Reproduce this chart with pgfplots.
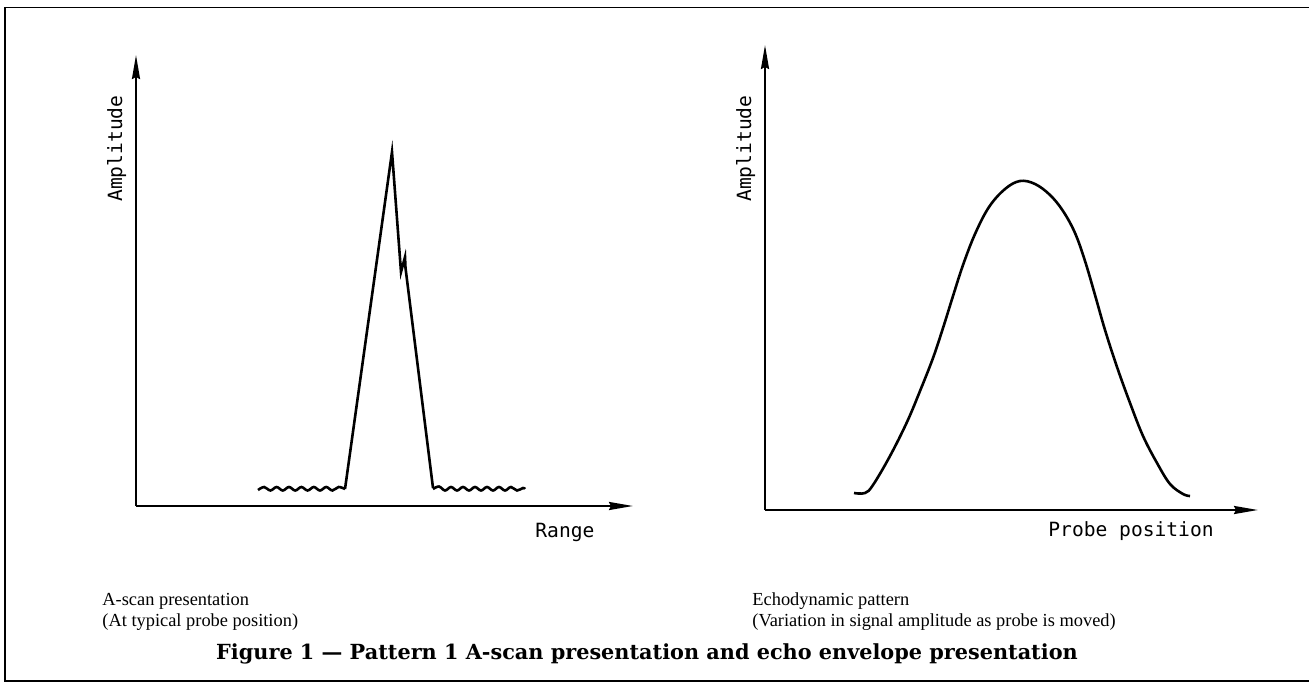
\documentclass[border=0pt]{standalone}
\usepackage{pgfplots}
\pgfplotsset{compat=1.18}
\usepackage{fontspec}
\setmainfont{Liberation Serif}
\newfontfamily\titlefont{DejaVu Serif}
\newfontfamily\lab{DejaVu Sans Mono}
\usetikzlibrary{arrows.meta}
\pgfplotsset{
  sketch/.style={
    scale only axis, x=0.5pt, y=0.5pt, xmin=0, ymin=0,
    axis x line=bottom, axis y line=left, ticks=none, clip=false,
    axis line style={line width=1.1pt, -{Stealth[length=12pt,width=4pt,inset=1pt]}},
    every axis plot/.append style={line width=1.3pt, black},
  }
}
\begin{document}
\begin{tikzpicture}
\useasboundingbox (0,0) rectangle (654.5pt,-347.5pt);
% frame
\draw[line width=0.9pt] (654.5pt,-3.8pt) -- (2.5pt,-3.8pt) -- (2.5pt,-340.5pt) -- (654.5pt,-340.5pt);

% left: A-scan
\begin{axis}[sketch, at={(68pt,-253pt)}, anchor=origin, xmax=497, ymax=451]
\addplot[smooth, tension=0.6] coordinates {
(122,16) (128.2,19) (134.4,15.5) (140.6,19) (146.8,15.5) (153,19) (159.2,15.5)
(165.4,19) (171.6,15.5) (177.8,19) (184,15.5) (190.2,19) (196.4,15.5) (202.6,19) (209,17)};
\addplot[sharp plot] coordinates {
(209,17) (256,354) (265,234) (269,249) (269.5,238) (297,18)};
\addplot[smooth, tension=0.6] coordinates {
(297,17) (303,19.5) (309,15.5) (315,19) (321,15.5) (327,19) (333,15.5) (339,19)
(345,15.5) (351,19) (357,15.5) (363,19) (369,15.5) (375,19) (381,15.5) (387,18) (389,17)};
\end{axis}

% right: echodynamic
\begin{axis}[sketch, at={(382.5pt,-255pt)}, anchor=origin, xmax=493, ymax=465]
\addplot[smooth, tension=0.6] coordinates {
(89,17) (100,17) (108,25) (125,54) (142,88) (155,119) (168,152) (178,182)
(188,214) (198,245) (210,276) (224,303) (240,321) (255,329) (270,326) (285,315)
(298,299) (310,277) (320,249) (330,215) (340,180) (352,143) (365,107) (378,74)
(392,47) (405,26) (418,16) (425,14)};
\end{axis}

% axis labels
\node[font=\lab\fontsize{9.8pt}{11pt}\selectfont, rotate=90, anchor=base west, inner sep=0pt] at (61pt,-101pt) {Amplitude};
\node[font=\lab\fontsize{9.8pt}{11pt}\selectfont, rotate=90, anchor=base west, inner sep=0pt] at (375.5pt,-101pt) {Amplitude};
\node[font=\lab\fontsize{9.8pt}{11pt}\selectfont, anchor=base west, inner sep=0pt] at (267.5pt,-268.5pt) {Range};
\node[font=\lab\fontsize{9.8pt}{11pt}\selectfont, anchor=base west, inner sep=0pt] at (524pt,-268pt) {Probe position};

% captions
\node[font=\fontsize{9.2pt}{10.5pt}\selectfont, anchor=base west, inner sep=0pt] at (51pt,-302.5pt) {A-scan presentation};
\node[font=\fontsize{9.2pt}{10.5pt}\selectfont, anchor=base west, inner sep=0pt] at (51pt,-313pt) {(At typical probe position)};
\node[font=\fontsize{9.2pt}{10.5pt}\selectfont, anchor=base west, inner sep=0pt] at (376pt,-302.5pt) {Echodynamic pattern};
\node[font=\fontsize{9.2pt}{10.5pt}\selectfont, anchor=base west, inner sep=0pt] at (376pt,-313pt) {(Variation in signal amplitude as probe is moved)};
\node[font=\titlefont\bfseries\fontsize{10.4pt}{12pt}\selectfont, anchor=base, inner sep=0pt] at (323.5pt,-329.5pt) {Figure 1 — Pattern 1 A-scan presentation and echo envelope presentation};
\end{tikzpicture}
\end{document}
